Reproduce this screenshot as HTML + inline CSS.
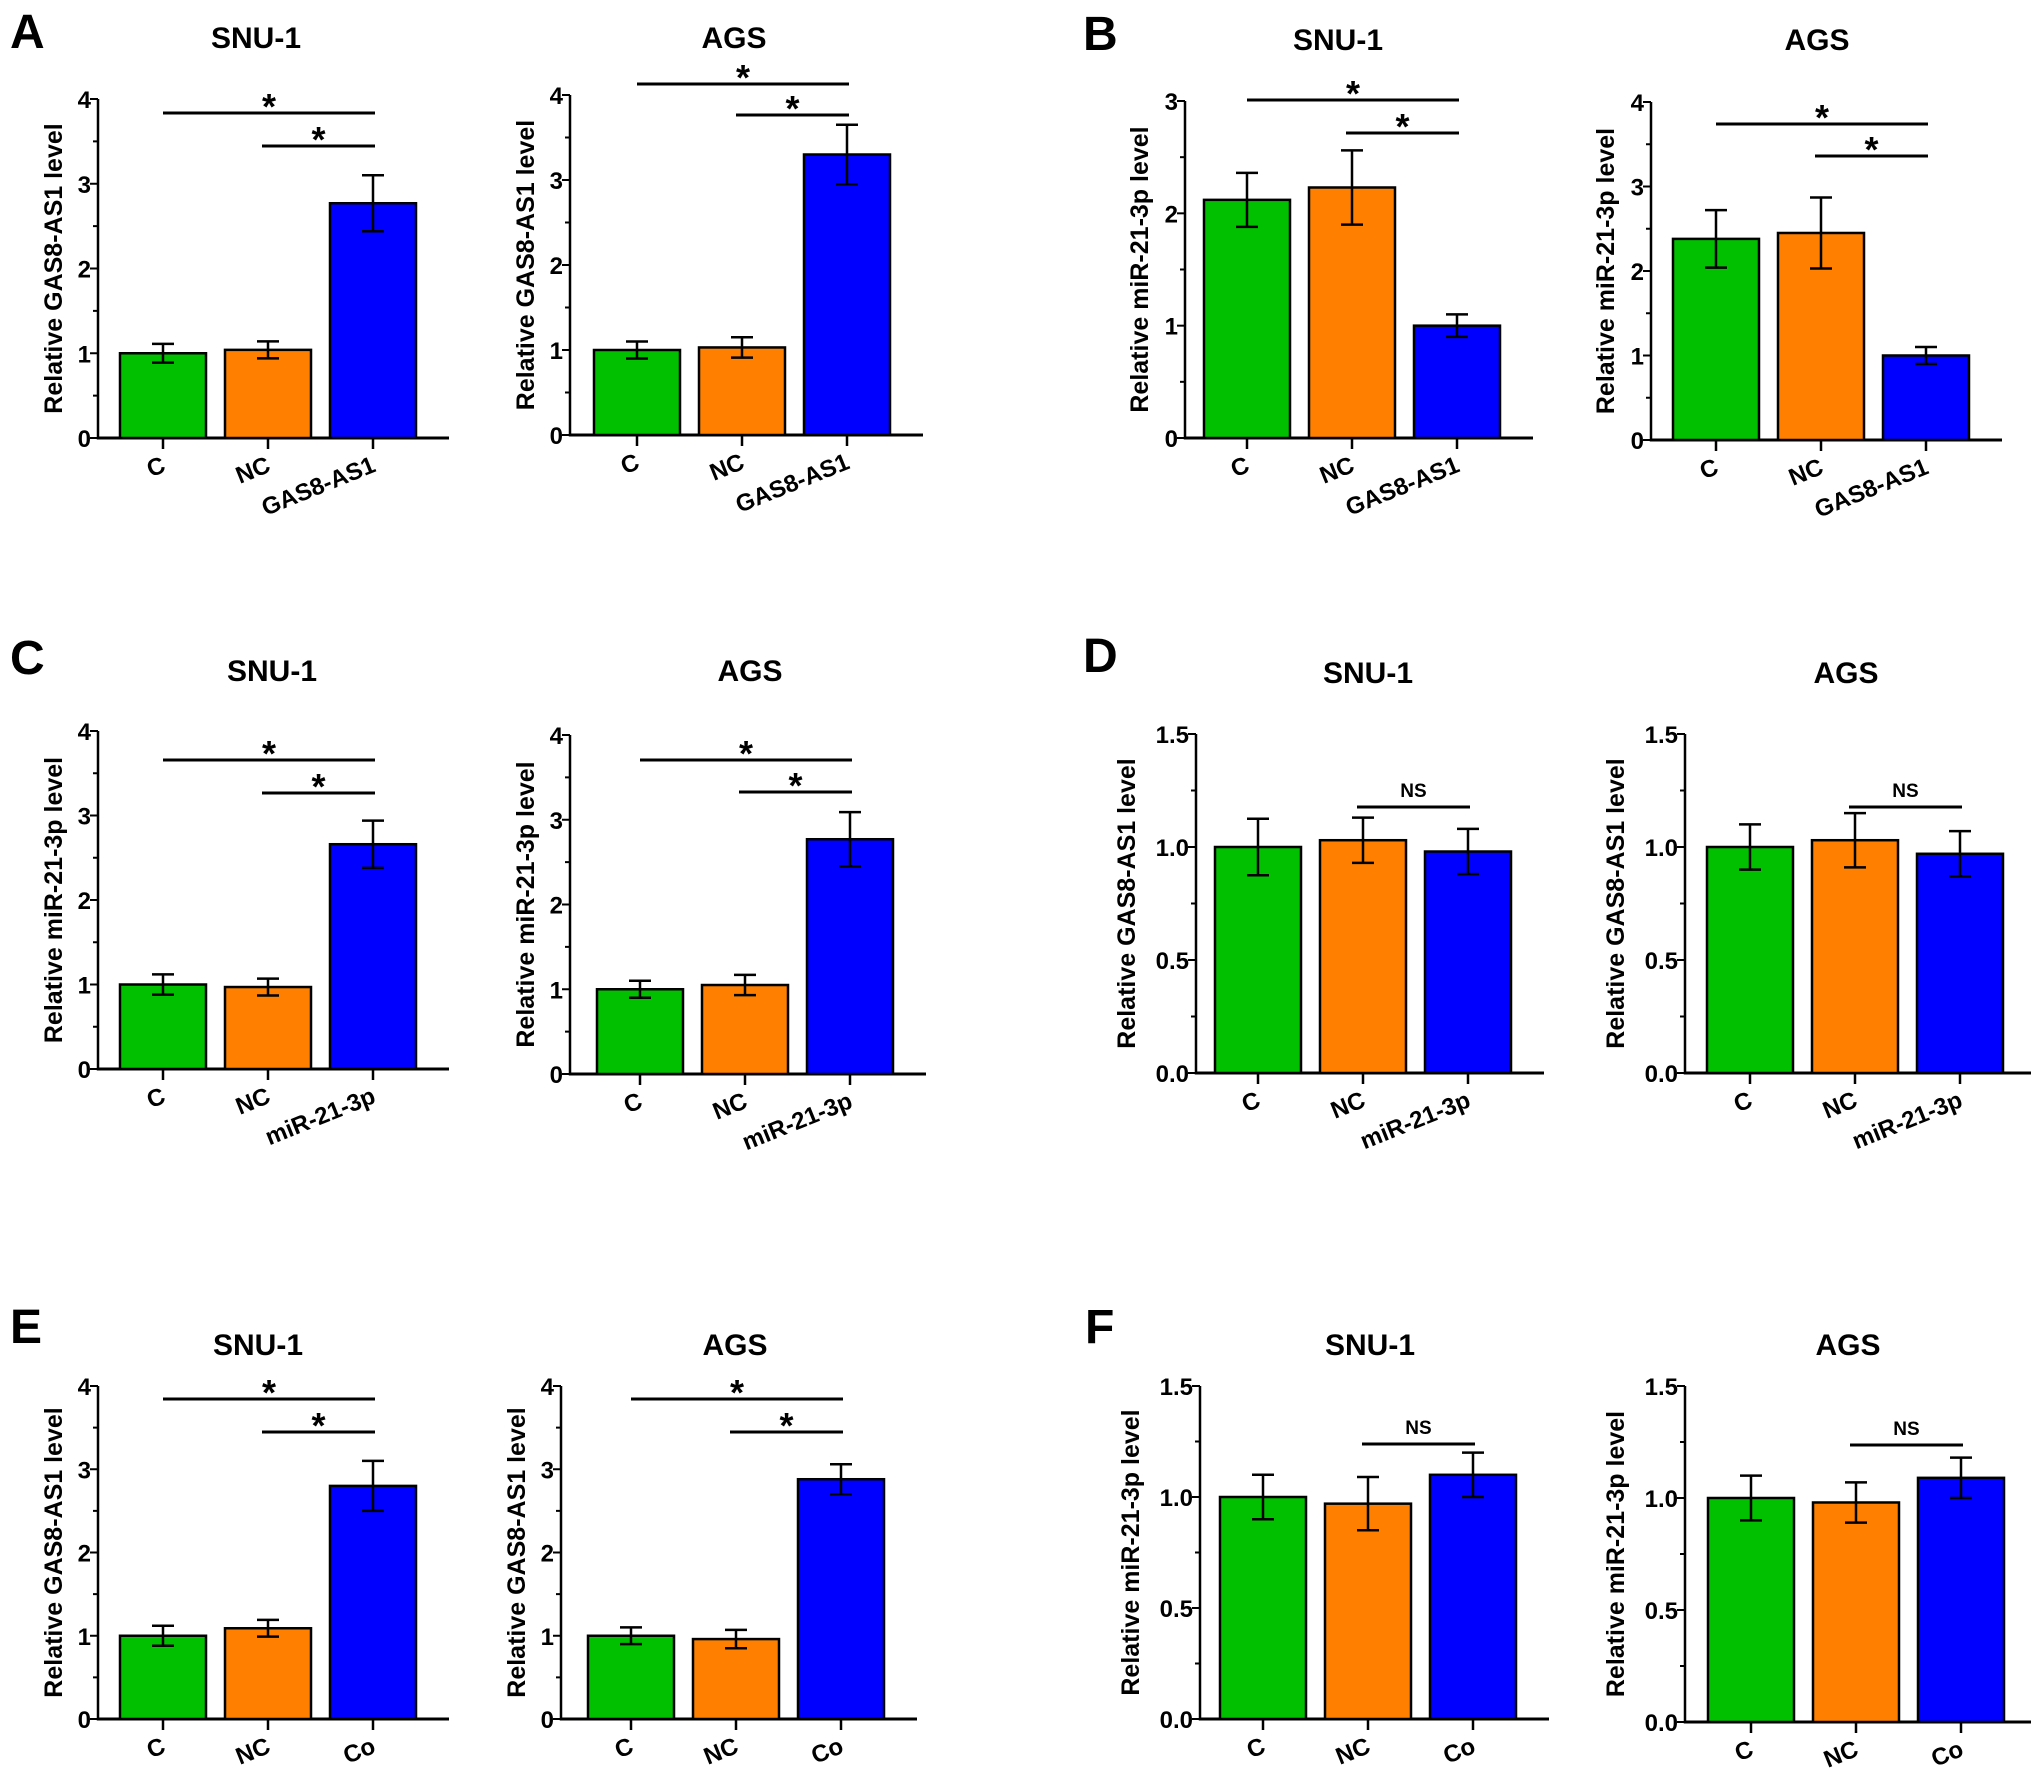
<!DOCTYPE html>
<html><head><meta charset="utf-8">
<style>
html,body{margin:0;padding:0;background:#fff;}
svg{display:block;}
text{font-family:"Liberation Sans Narrow","Liberation Sans",Arial,sans-serif;font-weight:bold;fill:#000;}
</style></head>
<body>
<svg id="fig" width="2031" height="1787" viewBox="0 0 2031 1787" xmlns="http://www.w3.org/2000/svg">
<text x="10" y="48" font-size="48" style="font-family:'Liberation Sans',sans-serif">A</text>
<text x="1083" y="50" font-size="48" style="font-family:'Liberation Sans',sans-serif">B</text>
<text x="10" y="674" font-size="48" style="font-family:'Liberation Sans',sans-serif">C</text>
<text x="1083" y="672" font-size="48" style="font-family:'Liberation Sans',sans-serif">D</text>
<text x="10" y="1343" font-size="48" style="font-family:'Liberation Sans',sans-serif">E</text>
<text x="1085" y="1343" font-size="48" style="font-family:'Liberation Sans',sans-serif">F</text>
</svg>
<script>
// ---- data ----
const catsGas = ["C","NC","GAS8-AS1"];
const catsMir = ["C","NC","miR-21-3p"];
const catsCo = ["C","NC","Co"];
const ticks4 = [0,1,2,3,4];
const ticks3 = [0,1,2,3];
const ticks15 = [0,0.5,1.0,1.5];
const aSnuValues = [1.0,1.04,2.77];   const aSnuErrors = [0.11,0.1,0.33];
const aAgsValues = [1.0,1.03,3.3];    const aAgsErrors = [0.1,0.12,0.35];
const bSnuValues = [2.12,2.23,1.0];   const bSnuErrors = [0.24,0.33,0.1];
const bAgsValues = [2.38,2.45,1.0];   const bAgsErrors = [0.34,0.42,0.1];
const cSnuValues = [1.0,0.97,2.66];   const cSnuErrors = [0.12,0.1,0.28];
const cAgsValues = [1.0,1.05,2.77];   const cAgsErrors = [0.1,0.12,0.32];
const dSnuValues = [1.0,1.03,0.98];   const dSnuErrors = [0.125,0.1,0.1];
const dAgsValues = [1.0,1.03,0.97];   const dAgsErrors = [0.1,0.12,0.1];
const eSnuValues = [1.0,1.09,2.8];    const eSnuErrors = [0.12,0.1,0.3];
const eAgsValues = [1.0,0.96,2.88];   const eAgsErrors = [0.1,0.11,0.18];
const fSnuValues = [1.0,0.97,1.1];    const fSnuErrors = [0.1,0.12,0.1];
const fAgsValues = [1.0,0.98,1.09];   const fAgsErrors = [0.1,0.09,0.09];

const colors = ["#00c000","#ff8000","#0000ff"];
const svg = document.getElementById('fig');
const NS = "http://www.w3.org/2000/svg";
function mk(tag, attrs){const e=document.createElementNS(NS,tag);for(const k in attrs)e.setAttribute(k,attrs[k]);svg.appendChild(e);return e;}

function draw(p){
  const ymax = p.ticks[p.ticks.length-1];
  const yS = v => p.y0 - (v/ymax)*(p.y0-p.yTop);
  const xC = i => p.barStart + i*105 + 43;
  const xEnd = p.barStart + 3*105 + 14;
  const t = mk('text',{x:p.titleX,y:p.titleY,'font-size':30,'text-anchor':'middle'});
  t.textContent = p.title;
  
  
  const ly = (p.yTop+p.y0)/2;
  const lx = p.axisX - p.labelOff;
  const yl = mk('text',{x:lx,y:ly,'font-size':25,'text-anchor':'middle',dy:'0.36em',transform:`rotate(-90 ${lx} ${ly})`,style:"font-family:'Liberation Sans',sans-serif"});
  yl.textContent = p.ylabel;
  
  
  const ya = mk('line',{x1:p.axisX,y1:p.yTop,x2:p.axisX,y2:p.y0+1.5,stroke:'#000','stroke-width':2.5});
  
  
  const xa = mk('line',{x1:p.axisX-1,y1:p.y0,x2:xEnd,y2:p.y0,stroke:'#000','stroke-width':3});
  
  
  const step = p.ticks[1]-p.ticks[0];
  for(let j=0;j<p.ticks.length;j++){
    const v=p.ticks[j], y=yS(v);
    const tk = mk('line',{x1:p.axisX-8,y1:y,x2:p.axisX,y2:y,stroke:'#000','stroke-width':2});
    
    
    const tl = mk('text',{x:p.axisX-7,y:y+9,'font-size':24,'text-anchor':'end'});
    tl.textContent = p.dec ? v.toFixed(1) : String(v);
    
    
    if(j<p.ticks.length-1){
      const ym=yS(v+step/2);
      const mt = mk('line',{x1:p.axisX-5,y1:ym,x2:p.axisX,y2:ym,stroke:'#000','stroke-width':2});
      
      
    }
  }
  for(let i=0;i<p.values.length;i++){
    const x0 = p.barStart + i*105, yv = yS(p.values[i]);
    const b = mk('rect',{x:x0,y:yv,width:86,height:p.y0-yv,fill:colors[i],stroke:'#000','stroke-width':2.5});
    
    
    const cx=xC(i), hi=yS(p.values[i]+p.errors[i]), lo=yS(p.values[i]-p.errors[i]);
    const eb = mk('path',{d:`M${cx},${hi}V${lo}M${cx-11},${hi}H${cx+11}M${cx-11},${lo}H${cx+11}`,stroke:'#000','stroke-width':2.5,fill:'none'});
    
    
    const xt = mk('line',{x1:cx,y1:p.y0,x2:cx,y2:p.y0+11,stroke:'#000','stroke-width':2.5});
    
    
    const ax=cx+4, ay=p.y0+33;
    const xl = mk('text',{x:ax,y:ay,'font-size':24,'text-anchor':'end',transform:`rotate(-22 ${ax} ${ay})`});
    xl.textContent = p.cats[i];
    
    
  }
  for(const s of p.sig){
    const x1 = xC(s.from)+ (s.from===0?0:-6), x2 = xC(2)+2;
    const sl = mk('line',{x1:x1,y1:s.y,x2:x2,y2:s.y,stroke:'#000','stroke-width':3});
    
    
    const st = s.ns ? mk('text',{x:(x1+x2)/2,y:s.y-10,'font-size':19,'text-anchor':'middle'})
                    : mk('text',{x:(x1+x2)/2,y:s.y+6,'font-size':36,'text-anchor':'middle',style:"font-family:'Liberation Sans',sans-serif"});
    st.textContent = s.ns ? 'NS' : '*';
    
    
  }
}

const G='Relative GAS8-AS1 level', M='Relative miR-21-3p level';
draw({id:'a-snu1',title:'SNU-1',titleX:256,titleY:48,axisX:98,yTop:99,y0:438,barStart:120,ticks:ticks4,values:aSnuValues,errors:aSnuErrors,cats:catsGas,ylabel:G,labelOff:45,sig:[{from:0,y:113},{from:1,y:146}]});
draw({id:'a-ags',title:'AGS',titleX:734,titleY:48,axisX:570,yTop:95,y0:435,barStart:594,ticks:ticks4,values:aAgsValues,errors:aAgsErrors,cats:catsGas,ylabel:G,labelOff:45,sig:[{from:0,y:84},{from:1,y:115}]});
draw({id:'b-snu1',title:'SNU-1',titleX:1338,titleY:50,axisX:1185,yTop:101,y0:438,barStart:1204,ticks:ticks3,values:bSnuValues,errors:bSnuErrors,cats:catsGas,ylabel:M,labelOff:46,sig:[{from:0,y:100},{from:1,y:133}]});
draw({id:'b-ags',title:'AGS',titleX:1817,titleY:50,axisX:1651,yTop:102,y0:440,barStart:1673,ticks:ticks4,values:bAgsValues,errors:bAgsErrors,cats:catsGas,ylabel:M,labelOff:46,sig:[{from:0,y:124},{from:1,y:156}]});
draw({id:'c-snu1',title:'SNU-1',titleX:272,titleY:681,axisX:98,yTop:731,y0:1069,barStart:120,ticks:ticks4,values:cSnuValues,errors:cSnuErrors,cats:catsMir,ylabel:M,labelOff:45,sig:[{from:0,y:760},{from:1,y:793}]});
draw({id:'c-ags',title:'AGS',titleX:750,titleY:681,axisX:570,yTop:735,y0:1074,barStart:597,ticks:ticks4,values:cAgsValues,errors:cAgsErrors,cats:catsMir,ylabel:M,labelOff:45,sig:[{from:0,y:760},{from:1,y:792}]});
draw({id:'d-snu1',title:'SNU-1',titleX:1368,titleY:683,axisX:1196,yTop:734,y0:1073,barStart:1215,ticks:ticks15,dec:true,values:dSnuValues,errors:dSnuErrors,cats:catsMir,ylabel:G,labelOff:70,sig:[{from:1,y:807,ns:true}]});
draw({id:'d-ags',title:'AGS',titleX:1846,titleY:683,axisX:1685,yTop:734,y0:1073,barStart:1707,ticks:ticks15,dec:true,values:dAgsValues,errors:dAgsErrors,cats:catsMir,ylabel:G,labelOff:70,sig:[{from:1,y:807,ns:true}]});
draw({id:'e-snu1',title:'SNU-1',titleX:258,titleY:1355,axisX:98,yTop:1386,y0:1719,barStart:120,ticks:ticks4,values:eSnuValues,errors:eSnuErrors,cats:catsCo,ylabel:G,labelOff:45,sig:[{from:0,y:1399},{from:1,y:1432}]});
draw({id:'e-ags',title:'AGS',titleX:735,titleY:1355,axisX:561,yTop:1386,y0:1719,barStart:588,ticks:ticks4,values:eAgsValues,errors:eAgsErrors,cats:catsCo,ylabel:G,labelOff:45,sig:[{from:0,y:1399},{from:1,y:1432}]});
draw({id:'f-snu1',title:'SNU-1',titleX:1370,titleY:1355,axisX:1200,yTop:1386,y0:1719,barStart:1220,ticks:ticks15,dec:true,values:fSnuValues,errors:fSnuErrors,cats:catsCo,ylabel:M,labelOff:70,sig:[{from:1,y:1444,ns:true}]});
draw({id:'f-ags',title:'AGS',titleX:1848,titleY:1355,axisX:1685,yTop:1386,y0:1722,barStart:1708,ticks:ticks15,dec:true,values:fAgsValues,errors:fAgsErrors,cats:catsCo,ylabel:M,labelOff:70,sig:[{from:1,y:1445,ns:true}]});
</script>
</body></html>
